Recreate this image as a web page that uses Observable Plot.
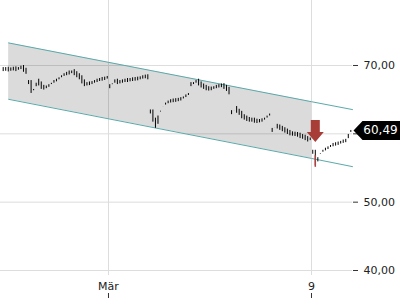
<!DOCTYPE html>
<html><head><meta charset="utf-8">
<script src="https://cdn.jsdelivr.net/npm/d3@7"></script>
<script src="https://cdn.jsdelivr.net/npm/@observablehq/plot@0.6"></script>
<style>
html,body{margin:0;padding:0;background:#fff;}
#chart{width:400px;height:300px;overflow:hidden;}
</style>
</head><body><div id="chart"></div>
<script>
// Intraday prices (16 slots per trading day), trading-day index relative to 2 March
const slotsPerDay = 16;
const dayIndex = [-3, -2, -1, 0, 1, 2, 3, 4, 5];
const feb26 = [69.4, 69.45, 69.35, 69.45, 69.5, 69.4, 69.6, 69.7, 69.3, 69.0];
const feb27 = [67.5, 66.2, 66.6, 67.7, 67.3, 66.8, 66.7, 66.9, 67.1, 67.5, 67.7, 67.9, 68.2, 68.5, 68.7, 68.8];
const feb28 = [68.9, 69.1, 68.8, 68.5, 68.2, 67.6, 67.2, 67.3, 67.35, 67.5, 67.7, 67.8, 67.95, 68.0, 68.1, 68.3];
const mar2  = [66.9, 67.6, 67.7, 67.5, 67.6, 67.7, 67.8, 67.8, 67.9, 67.95, 68.0, 68.05, 68.2, 68.3, 68.35, 68.2];
const mar3  = [63.2, 62.0, 61.1, 62.9, 63.6, 64.2, 64.5, 64.7, 64.8, 64.85, 64.9, 65.0, 65.1, 65.4, 65.6, 65.9];
const mar4  = [67.2, 67.5, 67.7, 67.3, 67.0, 66.8, 66.6, 66.55, 66.6, 66.8, 66.9, 67.0, 67.05, 66.8, 66.5, 66.0];
const mar5  = [63.1, 63.7, 63.3, 63.0, 62.5, 62.3, 62.1, 62.0, 62.0, 61.85, 61.8, 61.9, 62.0, 62.3, 62.6, 62.9];
const mar6  = [60.5, 61.1, 61.0, 60.8, 60.6, 60.4, 60.2, 60.0, 59.95, 59.9, 59.8, 59.6, 59.5, 59.3, 59.1, 59.3];
const mar9  = [57.3, 55.6, 56.8, 57.3, 57.6, 57.8, 58.0, 58.3, 58.4, 58.5, 58.6, 58.8, 58.9, 59.0, 60.2, 60.49];
const allDays = [feb26, feb27, feb28, mar2, mar3, mar4, mar5, mar6, mar9];

// Trend channel (trading-day index, price)
const channelT = [-2.46, 5.0, 6.01];
const channelUpper = [73.3, 64.7, 63.55];
const channelLower = [65.05, 56.4, 55.2];

// Signal bar and sell arrow
const signalDay = 5, signalSlot = 1;
const signalLow = 55.1, signalHigh = 56.8;
const arrowTip = 58.8;

// Last price tag
const lastPrice = 60.49;
const lastLabel = "60,49";

// Axes (the 60,00 label sits under the price tag)
const yTicks = [40, 50, 60, 70];
const yLabelTicks = [40, 50, 70];
const yTickLabels = ["40,00", "50,00", "70,00"];
const xTicks = [0, 5];
const xTickLabels = ["Mär", "9"];
const xDomain = [-2.66, 6.01];
const yDomain = [39.27, 79.51];

const slotT = (d, slot) => d + (slot + 0.5) / slotsPerDay;
const bars = [];
allDays.forEach((vals, k) => {
  const d = dayIndex[k], n = vals.length;
  vals.forEach((v, i) => {
    bars.push({t: slotT(d, slotsPerDay - n + i), y1: i ? vals[i - 1] : v, y2: v});
  });
});
const channel = channelT.map((t, i) => ({t, hi: channelUpper[i], lo: channelLower[i]}));
const fillPart = channel.slice(0, 2);
const signal = [{t: slotT(signalDay, signalSlot), lo: signalLow, hi: signalHigh, tip: arrowTip}];
const tag = [{price: lastPrice, label: lastLabel}];

const blockArrow = {draw(ctx) {
  ctx.moveTo(0, 0); ctx.lineTo(-8.5, -10); ctx.lineTo(-4.5, -10); ctx.lineTo(-4.5, -22);
  ctx.lineTo(4.5, -22); ctx.lineTo(4.5, -10); ctx.lineTo(8.5, -10); ctx.closePath();
}};
const priceTag = {draw(ctx) {
  ctx.moveTo(1, 0); ctx.lineTo(10, -9.5); ctx.lineTo(60, -9.5); ctx.lineTo(60, 9.5); ctx.lineTo(10, 9.5); ctx.closePath();
}};

const chart = Plot.plot({
  width: 400, height: 300,
  marginLeft: 0, marginRight: 48, marginTop: 0, marginBottom: 25,
  style: {fontFamily: "DejaVu Sans", fontSize: "11px", color: "#333", background: "#fff"},
  x: {domain: xDomain, axis: null},
  y: {domain: yDomain, axis: null},
  marks: [
    Plot.gridY(yTicks, {stroke: "#ddd", strokeOpacity: 1}),
    Plot.gridX(xTicks, {stroke: "#ddd", strokeOpacity: 1}),
    Plot.areaY(fillPart, {x: "t", y1: "lo", y2: "hi", fill: "#000", fillOpacity: 0.14}),
    Plot.line(channel, {x: "t", y: "hi", stroke: "#5aa9ab", strokeWidth: 1}),
    Plot.line(channel, {x: "t", y: "lo", stroke: "#5aa9ab", strokeWidth: 1}),
    Plot.ruleX(bars, {x: "t", y1: "y1", y2: "y2", stroke: "#000", strokeWidth: 1, insetTop: -2, insetBottom: -2}),
    Plot.ruleX(signal, {x: "t", y1: "lo", y2: "hi", stroke: "#b0413c", strokeWidth: 1.5}),
    Plot.dot(signal, {x: "t", y: "tip", symbol: blockArrow, fill: "#a83c36", stroke: null, r: 5}),
    Plot.axisY(yTicks, {anchor: "right", tickSize: 5, text: null, stroke: "#333", label: null}),
    Plot.axisY(yLabelTicks, {anchor: "right", tickSize: 0, tickPadding: 11, tickFormat: d => yTickLabels[yLabelTicks.indexOf(d)], fill: "#222", fontSize: 11, label: null}),
    Plot.axisX(xTicks, {anchor: "bottom", tickSize: 0, tickPadding: 7, tickFormat: d => xTickLabels[xTicks.indexOf(d)], fill: "#222", fontSize: 11, label: null}),
    Plot.axisX(xTicks, {anchor: "bottom", tickSize: 5, text: null, stroke: "#333", dy: 18, label: null}),
    Plot.dot(tag, {y: "price", frameAnchor: "right", symbol: priceTag, fill: "#000", stroke: null, r: 5}),
    Plot.text(tag, {y: "price", text: "label", frameAnchor: "right", textAnchor: "middle", dx: 28, fill: "#fff", fontSize: 12})
  ]
});
document.getElementById("chart").appendChild(chart);
</script>
</body></html>
